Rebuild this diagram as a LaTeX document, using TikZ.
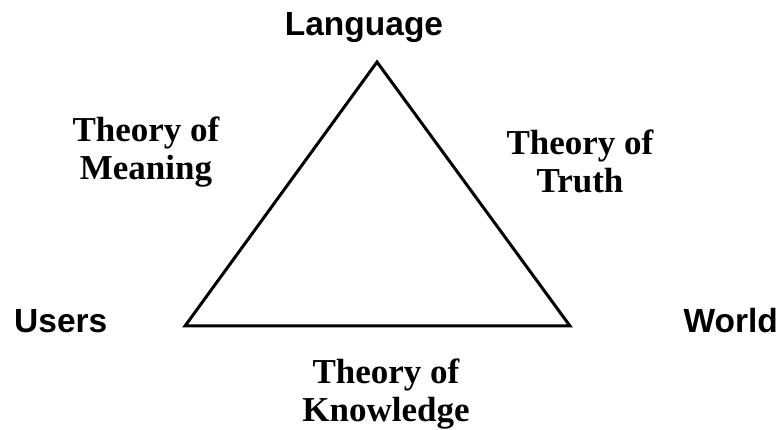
\documentclass[tikz,border=0pt]{standalone}
\usepackage{fontspec}
\setmainfont{Liberation Serif}
\setsansfont{Liberation Sans}
\usetikzlibrary{positioning}
\tikzset{
  corner/.style={font=\sffamily\bfseries\fontsize{33.5}{37}\selectfont, inner sep=0pt},
  theory/.style={font=\rmfamily\bfseries\fontsize{35}{38}\selectfont, align=center, inner sep=0pt},
  side/.style={line width=3pt, line join=miter}
}

\begin{document}
\begin{tikzpicture}[x=1pt,y=1pt]
  \useasboundingbox (0,0) rectangle (784,430);
  % triangle corners
  \coordinate (top) at (377,368);
  \coordinate (left) at (185,104);
  \coordinate (right) at (570,104);
  \draw[side] (top) -- (left) -- (right) -- cycle;
  % vertex labels
  \node[corner, anchor=base] (language) at (364,394) {Language};
  \node[corner, anchor=base west] (users) at (14,97) {Users};
  \node[corner, anchor=base east] (world) at (778,97) {World};
  % side labels
  \node[theory] (meaning) at (146,278) {Theory of\\Meaning};
  \node[theory] (truth) at (580,269) {Theory of\\Truth};
  \node[theory] (knowledge) at (386,36) {Theory of\\Knowledge};
\end{tikzpicture}
\end{document}
